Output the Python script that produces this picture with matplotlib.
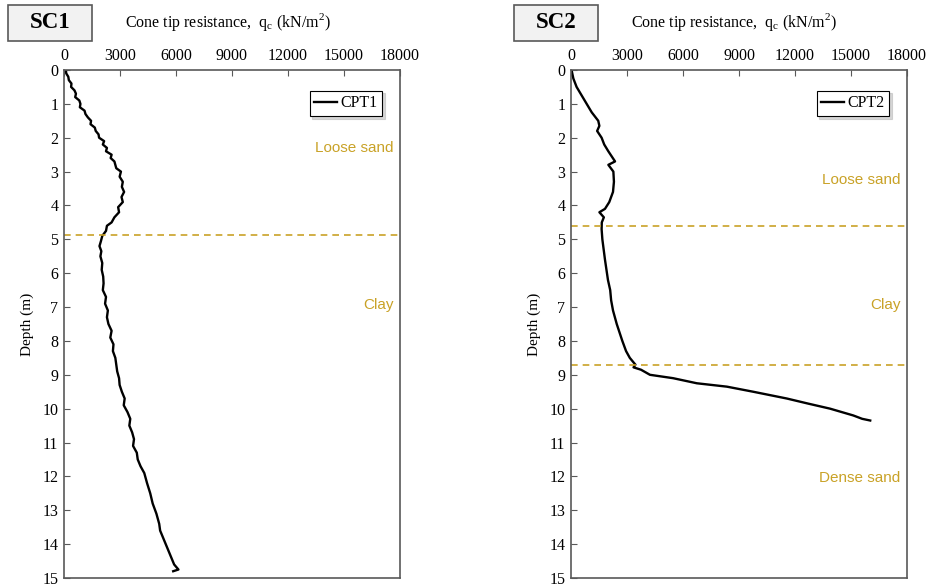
import numpy as np
import matplotlib
matplotlib.use('Agg')
import matplotlib.pyplot as plt
from matplotlib.patches import Rectangle

# CPT1 (SC1): depth (m) and cone tip resistance (kN/m2)
d1 = [0.0, 0.1, 0.2, 0.3, 0.4, 0.5, 0.6, 0.7, 0.8, 0.9, 1.0, 1.1, 1.2, 1.3,
      1.4, 1.5, 1.6, 1.7, 1.8, 1.9, 2.0, 2.1, 2.2, 2.3, 2.4, 2.5, 2.6, 2.7,
      2.8, 2.9, 3.0, 3.15, 3.3, 3.45, 3.6, 3.75, 3.9, 4.05, 4.2, 4.35, 4.5,
      4.6, 4.75, 4.9, 5.05, 5.2, 5.35, 5.5, 5.7, 5.9, 6.1, 6.3, 6.5, 6.7,
      6.9, 7.1, 7.3, 7.5, 7.7, 7.9, 8.1, 8.3, 8.5, 8.7, 8.9, 9.1, 9.3, 9.5,
      9.7, 9.9, 10.1, 10.3, 10.5, 10.7, 10.9, 11.1, 11.3, 11.5, 11.7, 11.9,
      12.2, 12.5, 12.8, 13.1, 13.4, 13.6, 13.8, 14.0, 14.2, 14.4, 14.6,
      14.75, 14.8]
q1 = [100, 120, 230, 260, 400, 380, 560, 640, 600, 820, 880, 850, 1100, 1150,
      1280, 1450, 1420, 1650, 1700, 1850, 1880, 2150, 2080, 2300, 2250, 2550,
      2500, 2700, 2750, 2800, 3050, 2980, 3150, 3100, 3220, 3080, 3150, 2900,
      2950, 2700, 2550, 2300, 2250, 2050, 1980, 1900, 2000, 1950, 2050, 2020,
      2100, 2120, 2080, 2250, 2200, 2350, 2300, 2380, 2550, 2480, 2650, 2620,
      2750, 2800, 2850, 2950, 2980, 3100, 3250, 3200, 3400, 3550, 3500, 3650,
      3750, 3700, 3900, 3950, 4100, 4300, 4450, 4620, 4750, 4950, 5100, 5150,
      5300, 5450, 5600, 5750, 5900, 6130, 5850]

# CPT2 (SC2)
d2 = [0.0, 0.25, 0.5, 0.75, 1.0, 1.25, 1.5, 1.65, 1.8, 2.0, 2.2, 2.4, 2.55,
      2.7, 2.8, 3.0, 3.3, 3.6, 3.9, 4.1, 4.2, 4.35, 4.5, 4.7, 5.0, 5.3, 5.6,
      5.9, 6.2, 6.5, 6.8, 7.1, 7.5, 8.0, 8.3, 8.5, 8.7, 8.78, 8.85, 9.0,
      9.1, 9.25, 9.35, 9.5, 9.7, 9.85, 10.0, 10.1, 10.2, 10.3, 10.35]
q2 = [30, 125, 300, 570, 840, 1110, 1460, 1520, 1400, 1640, 1780, 2000, 2180,
      2360, 2000, 2270, 2300, 2250, 2050, 1820, 1520, 1760, 1650, 1640, 1680,
      1750, 1820, 1900, 1980, 2100, 2150, 2250, 2450, 2750, 2950, 3150, 3450,
      3350, 3750, 4230, 5470, 6740, 8350, 9760, 11560, 12700, 13880, 14500,
      15120, 15600, 16030]

ticks_x = [0, 3000, 6000, 9000, 12000, 15000, 18000]
ticks_y = list(range(0, 16))

layers1 = [4.88]
layers2 = [4.6, 8.7]
labels1 = [('Loose sand', 2.3), ('Clay', 6.95)]
labels2 = [('Loose sand', 3.25), ('Clay', 6.95), ('Dense sand', 12.05)]

gold = '#C9A227'
grey = '#595959'
serif = 'Liberation Serif'

fig = plt.figure(figsize=(9.28, 5.88), dpi=100)
ax1 = fig.add_axes([64/928, 10/588, 336/928, 508/588])
ax2 = fig.add_axes([571/928, 10/588, 336/928, 508/588])

panels = [(ax1, d1, q1, 'CPT1', layers1, labels1, 'SC1', 8),
          (ax2, d2, q2, 'CPT2', layers2, labels2, 'SC2', 514)]

for ax, d, q, name, layers, labs, title, bx in panels:
    ax.plot(q, d, color='black', lw=1.7, label=name)
    for z in layers:
        ax.axhline(z, color=gold, ls=(0, (4, 3)), lw=1.2)
    for txt, z in labs:
        ax.text(0.98, z, txt, transform=ax.get_yaxis_transform(), ha='right',
                va='center', color=gold, fontsize=11, family='Liberation Sans')
    ax.set_xlim(0, 18000)
    ax.set_ylim(15, 0)
    ax.set_xticks(ticks_x)
    ax.set_yticks(ticks_y)
    ax.xaxis.tick_top()
    ax.tick_params(axis='both', direction='in', length=4, color=grey,
                   labelsize=11.5, pad=4)
    ax.tick_params(axis='x', top=True, bottom=False)
    for lab in ax.get_xticklabels() + ax.get_yticklabels():
        lab.set_family(serif)
    for s in ax.spines.values():
        s.set_color(grey)
        s.set_linewidth(1.2)
    ax.set_ylabel('Depth (m)', family=serif, fontsize=11, labelpad=6)
    leg = ax.legend(loc='upper right', bbox_to_anchor=(0.97, 0.975),
                    prop={'family': serif, 'size': 11.5}, fancybox=False,
                    shadow={'color': '#BBBBBB', 'alpha': 0.6}, handlelength=1.4,
                    handletextpad=0.2, borderpad=0.3, framealpha=1)
    leg.get_frame().set_edgecolor('black')
    leg.get_frame().set_linewidth(0.8)
    # title box
    fig.patches.append(Rectangle((bx/928, 1 - 41/588), 84/928, 36/588,
                                 transform=fig.transFigure, facecolor='#F2F2F2',
                                 edgecolor=grey, lw=1.2))
    fig.text((bx + 42)/928, 1 - 23/588, title, ha='center', va='center',
             fontsize=16.5, fontweight='bold', family=serif)
    fig.text((bx + 117)/928, 1 - 22/588,
             'Cone tip resistance,  q$_{\\mathregular{c}}$ (kN/m$^{\\mathregular{2}}$)',
             ha='left', va='center', fontsize=11.5, family=serif)

fig.savefig('out.png', dpi=100)
